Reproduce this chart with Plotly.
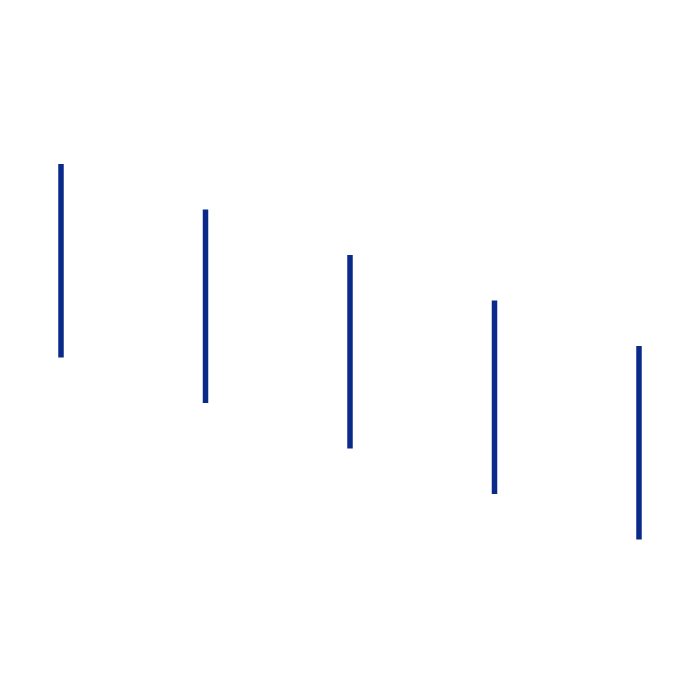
import plotly.graph_objects as go

categories = [0, 1, 2, 3, 4]
highs = [10, 9, 8, 7, 6]
lows = [5.75, 4.75, 3.75, 2.75, 1.75]

xs, ys = [], []
for c, h, l in zip(categories, highs, lows):
    xs += [c, c, None]
    ys += [h, l, None]

fig = go.Figure(go.Scatter(x=xs, y=ys, mode="lines",
                           line=dict(color="#0A2A8A", width=5.5),
                           hoverinfo="skip", showlegend=False))
fig.update_layout(width=700, height=700, margin=dict(l=0, r=0, t=0, b=0),
                  paper_bgcolor="white", plot_bgcolor="white")
fig.update_xaxes(visible=False, range=[-0.3668, 4.4775])
fig.update_yaxes(visible=False, range=[-1.956, 13.429])
fig.write_html("out.html")
